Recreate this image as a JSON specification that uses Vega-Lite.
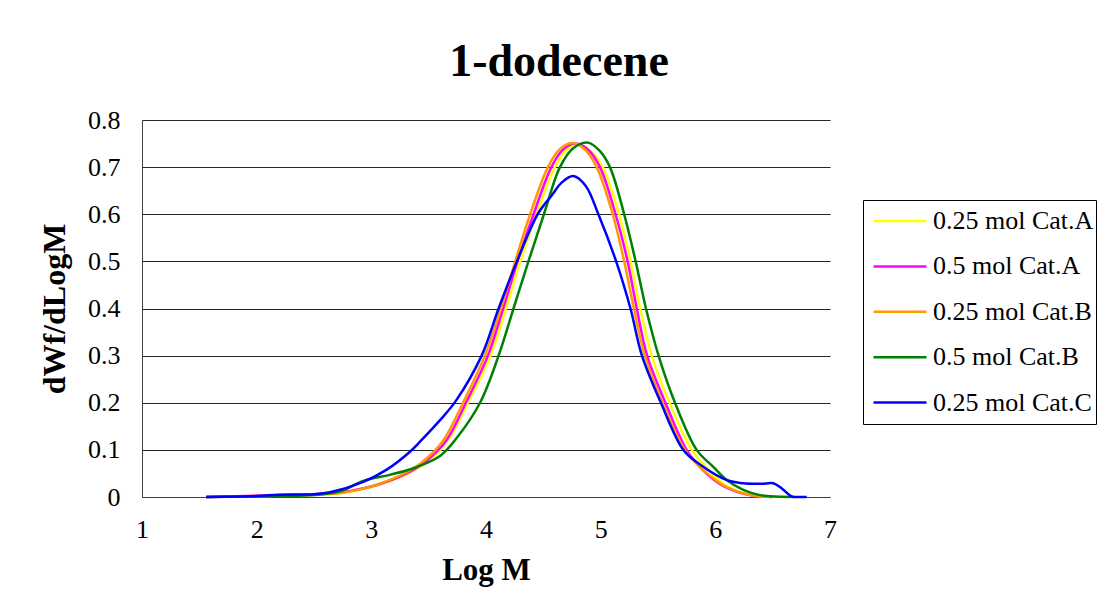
{
  "$schema": "https://vega.github.io/schema/vega-lite/v6.json",
  "width": 688,
  "height": 377,
  "autosize": {"type": "none"},
  "padding": {"left": 142, "top": 120, "right": 275, "bottom": 113},
  "background": "white",
  "config": {"font": "Liberation Serif", "view": {"stroke": null}},
  "title": {"text": "1-dodecene", "fontSize": 46, "fontWeight": "bold", "font": "Liberation Serif", "color": "black", "anchor": "middle", "dx": 73, "dy": 47, "baseline": "alphabetic", "offset": 32},
  "data": {"values": [
    {"s": "0.25 mol Cat.A", "x": 1.56, "y": 0},
    {"s": "0.25 mol Cat.A", "x": 2.2, "y": 0.003},
    {"s": "0.25 mol Cat.A", "x": 2.5, "y": 0.005},
    {"s": "0.25 mol Cat.A", "x": 2.75, "y": 0.009},
    {"s": "0.25 mol Cat.A", "x": 3.08, "y": 0.027},
    {"s": "0.25 mol Cat.A", "x": 3.37, "y": 0.056},
    {"s": "0.25 mol Cat.A", "x": 3.53, "y": 0.083},
    {"s": "0.25 mol Cat.A", "x": 3.671, "y": 0.121},
    {"s": "0.25 mol Cat.A", "x": 3.843, "y": 0.2},
    {"s": "0.25 mol Cat.A", "x": 4.04, "y": 0.3},
    {"s": "0.25 mol Cat.A", "x": 4.174, "y": 0.4},
    {"s": "0.25 mol Cat.A", "x": 4.3, "y": 0.5},
    {"s": "0.25 mol Cat.A", "x": 4.44, "y": 0.6},
    {"s": "0.25 mol Cat.A", "x": 4.6, "y": 0.7},
    {"s": "0.25 mol Cat.A", "x": 4.7, "y": 0.737},
    {"s": "0.25 mol Cat.A", "x": 4.8, "y": 0.748},
    {"s": "0.25 mol Cat.A", "x": 4.91, "y": 0.735},
    {"s": "0.25 mol Cat.A", "x": 5.018, "y": 0.7},
    {"s": "0.25 mol Cat.A", "x": 5.16, "y": 0.6},
    {"s": "0.25 mol Cat.A", "x": 5.26, "y": 0.5},
    {"s": "0.25 mol Cat.A", "x": 5.345, "y": 0.4},
    {"s": "0.25 mol Cat.A", "x": 5.445, "y": 0.3},
    {"s": "0.25 mol Cat.A", "x": 5.6, "y": 0.2},
    {"s": "0.25 mol Cat.A", "x": 5.794, "y": 0.1},
    {"s": "0.25 mol Cat.A", "x": 5.93, "y": 0.06},
    {"s": "0.25 mol Cat.A", "x": 6.09, "y": 0.025},
    {"s": "0.25 mol Cat.A", "x": 6.3, "y": 0.005},
    {"s": "0.25 mol Cat.A", "x": 6.55, "y": 0},

    {"s": "0.5 mol Cat.A", "x": 1.56, "y": 0},
    {"s": "0.5 mol Cat.A", "x": 1.9, "y": 0.002},
    {"s": "0.5 mol Cat.A", "x": 2.2, "y": 0.004},
    {"s": "0.5 mol Cat.A", "x": 2.5, "y": 0.006},
    {"s": "0.5 mol Cat.A", "x": 2.75, "y": 0.01},
    {"s": "0.5 mol Cat.A", "x": 3.08, "y": 0.028},
    {"s": "0.5 mol Cat.A", "x": 3.37, "y": 0.058},
    {"s": "0.5 mol Cat.A", "x": 3.52, "y": 0.085},
    {"s": "0.5 mol Cat.A", "x": 3.657, "y": 0.121},
    {"s": "0.5 mol Cat.A", "x": 3.825, "y": 0.2},
    {"s": "0.5 mol Cat.A", "x": 4.017, "y": 0.3},
    {"s": "0.5 mol Cat.A", "x": 4.15, "y": 0.4},
    {"s": "0.5 mol Cat.A", "x": 4.275, "y": 0.5},
    {"s": "0.5 mol Cat.A", "x": 4.415, "y": 0.6},
    {"s": "0.5 mol Cat.A", "x": 4.57, "y": 0.7},
    {"s": "0.5 mol Cat.A", "x": 4.67, "y": 0.737},
    {"s": "0.5 mol Cat.A", "x": 4.78, "y": 0.75},
    {"s": "0.5 mol Cat.A", "x": 4.89, "y": 0.737},
    {"s": "0.5 mol Cat.A", "x": 4.994, "y": 0.7},
    {"s": "0.5 mol Cat.A", "x": 5.13, "y": 0.6},
    {"s": "0.5 mol Cat.A", "x": 5.235, "y": 0.5},
    {"s": "0.5 mol Cat.A", "x": 5.315, "y": 0.4},
    {"s": "0.5 mol Cat.A", "x": 5.405, "y": 0.3},
    {"s": "0.5 mol Cat.A", "x": 5.565, "y": 0.2},
    {"s": "0.5 mol Cat.A", "x": 5.75, "y": 0.1},
    {"s": "0.5 mol Cat.A", "x": 5.9, "y": 0.055},
    {"s": "0.5 mol Cat.A", "x": 6.08, "y": 0.022},
    {"s": "0.5 mol Cat.A", "x": 6.3, "y": 0.004},
    {"s": "0.5 mol Cat.A", "x": 6.5, "y": 0},

    {"s": "0.25 mol Cat.B", "x": 1.56, "y": 0},
    {"s": "0.25 mol Cat.B", "x": 1.9, "y": 0.001},
    {"s": "0.25 mol Cat.B", "x": 2.2, "y": 0.003},
    {"s": "0.25 mol Cat.B", "x": 2.5, "y": 0.005},
    {"s": "0.25 mol Cat.B", "x": 2.75, "y": 0.009},
    {"s": "0.25 mol Cat.B", "x": 3.08, "y": 0.029},
    {"s": "0.25 mol Cat.B", "x": 3.37, "y": 0.061},
    {"s": "0.25 mol Cat.B", "x": 3.51, "y": 0.088},
    {"s": "0.25 mol Cat.B", "x": 3.63, "y": 0.121},
    {"s": "0.25 mol Cat.B", "x": 3.8, "y": 0.2},
    {"s": "0.25 mol Cat.B", "x": 3.99, "y": 0.3},
    {"s": "0.25 mol Cat.B", "x": 4.13, "y": 0.4},
    {"s": "0.25 mol Cat.B", "x": 4.255, "y": 0.5},
    {"s": "0.25 mol Cat.B", "x": 4.385, "y": 0.6},
    {"s": "0.25 mol Cat.B", "x": 4.54, "y": 0.7},
    {"s": "0.25 mol Cat.B", "x": 4.64, "y": 0.737},
    {"s": "0.25 mol Cat.B", "x": 4.75, "y": 0.751},
    {"s": "0.25 mol Cat.B", "x": 4.86, "y": 0.738},
    {"s": "0.25 mol Cat.B", "x": 4.965, "y": 0.7},
    {"s": "0.25 mol Cat.B", "x": 5.105, "y": 0.6},
    {"s": "0.25 mol Cat.B", "x": 5.205, "y": 0.5},
    {"s": "0.25 mol Cat.B", "x": 5.29, "y": 0.4},
    {"s": "0.25 mol Cat.B", "x": 5.385, "y": 0.3},
    {"s": "0.25 mol Cat.B", "x": 5.54, "y": 0.2},
    {"s": "0.25 mol Cat.B", "x": 5.735, "y": 0.1},
    {"s": "0.25 mol Cat.B", "x": 5.895, "y": 0.057},
    {"s": "0.25 mol Cat.B", "x": 6.069, "y": 0.025},
    {"s": "0.25 mol Cat.B", "x": 6.157, "y": 0.015},
    {"s": "0.25 mol Cat.B", "x": 6.302, "y": 0.004},
    {"s": "0.25 mol Cat.B", "x": 6.48, "y": 0},

    {"s": "0.5 mol Cat.B", "x": 1.56, "y": 0},
    {"s": "0.5 mol Cat.B", "x": 2.2, "y": 0.002},
    {"s": "0.5 mol Cat.B", "x": 2.5, "y": 0.004},
    {"s": "0.5 mol Cat.B", "x": 2.73, "y": 0.012},
    {"s": "0.5 mol Cat.B", "x": 2.93, "y": 0.034},
    {"s": "0.5 mol Cat.B", "x": 3.16, "y": 0.047},
    {"s": "0.5 mol Cat.B", "x": 3.366, "y": 0.061},
    {"s": "0.5 mol Cat.B", "x": 3.599, "y": 0.087},
    {"s": "0.5 mol Cat.B", "x": 3.744, "y": 0.125},
    {"s": "0.5 mol Cat.B", "x": 3.948, "y": 0.2},
    {"s": "0.5 mol Cat.B", "x": 4.11, "y": 0.3},
    {"s": "0.5 mol Cat.B", "x": 4.24, "y": 0.4},
    {"s": "0.5 mol Cat.B", "x": 4.37, "y": 0.5},
    {"s": "0.5 mol Cat.B", "x": 4.505, "y": 0.6},
    {"s": "0.5 mol Cat.B", "x": 4.645, "y": 0.7},
    {"s": "0.5 mol Cat.B", "x": 4.76, "y": 0.74},
    {"s": "0.5 mol Cat.B", "x": 4.89, "y": 0.752},
    {"s": "0.5 mol Cat.B", "x": 4.99, "y": 0.735},
    {"s": "0.5 mol Cat.B", "x": 5.081, "y": 0.7},
    {"s": "0.5 mol Cat.B", "x": 5.205, "y": 0.6},
    {"s": "0.5 mol Cat.B", "x": 5.305, "y": 0.5},
    {"s": "0.5 mol Cat.B", "x": 5.395, "y": 0.4},
    {"s": "0.5 mol Cat.B", "x": 5.505, "y": 0.3},
    {"s": "0.5 mol Cat.B", "x": 5.648, "y": 0.2},
    {"s": "0.5 mol Cat.B", "x": 5.837, "y": 0.1},
    {"s": "0.5 mol Cat.B", "x": 5.982, "y": 0.064},
    {"s": "0.5 mol Cat.B", "x": 6.099, "y": 0.036},
    {"s": "0.5 mol Cat.B", "x": 6.244, "y": 0.015},
    {"s": "0.5 mol Cat.B", "x": 6.389, "y": 0.004},
    {"s": "0.5 mol Cat.B", "x": 6.65, "y": 0},

    {"s": "0.25 mol Cat.C", "x": 1.56, "y": 0},
    {"s": "0.25 mol Cat.C", "x": 2.0, "y": 0.002},
    {"s": "0.25 mol Cat.C", "x": 2.2, "y": 0.005},
    {"s": "0.25 mol Cat.C", "x": 2.5, "y": 0.006},
    {"s": "0.25 mol Cat.C", "x": 2.64, "y": 0.01},
    {"s": "0.25 mol Cat.C", "x": 2.93, "y": 0.032},
    {"s": "0.25 mol Cat.C", "x": 3.134, "y": 0.058},
    {"s": "0.25 mol Cat.C", "x": 3.337, "y": 0.096},
    {"s": "0.25 mol Cat.C", "x": 3.439, "y": 0.121},
    {"s": "0.25 mol Cat.C", "x": 3.599, "y": 0.163},
    {"s": "0.25 mol Cat.C", "x": 3.74, "y": 0.205},
    {"s": "0.25 mol Cat.C", "x": 3.962, "y": 0.3},
    {"s": "0.25 mol Cat.C", "x": 4.11, "y": 0.4},
    {"s": "0.25 mol Cat.C", "x": 4.27, "y": 0.5},
    {"s": "0.25 mol Cat.C", "x": 4.45, "y": 0.6},
    {"s": "0.25 mol Cat.C", "x": 4.573, "y": 0.64},
    {"s": "0.25 mol Cat.C", "x": 4.66, "y": 0.667},
    {"s": "0.25 mol Cat.C", "x": 4.76, "y": 0.681},
    {"s": "0.25 mol Cat.C", "x": 4.87, "y": 0.66},
    {"s": "0.25 mol Cat.C", "x": 4.98, "y": 0.6},
    {"s": "0.25 mol Cat.C", "x": 5.135, "y": 0.5},
    {"s": "0.25 mol Cat.C", "x": 5.26, "y": 0.4},
    {"s": "0.25 mol Cat.C", "x": 5.36, "y": 0.3},
    {"s": "0.25 mol Cat.C", "x": 5.525, "y": 0.2},
    {"s": "0.25 mol Cat.C", "x": 5.721, "y": 0.1},
    {"s": "0.25 mol Cat.C", "x": 5.866, "y": 0.069},
    {"s": "0.25 mol Cat.C", "x": 6.099, "y": 0.036},
    {"s": "0.25 mol Cat.C", "x": 6.244, "y": 0.029},
    {"s": "0.25 mol Cat.C", "x": 6.4, "y": 0.028},
    {"s": "0.25 mol Cat.C", "x": 6.505, "y": 0.029},
    {"s": "0.25 mol Cat.C", "x": 6.57, "y": 0.02},
    {"s": "0.25 mol Cat.C", "x": 6.666, "y": 0.001},
    {"s": "0.25 mol Cat.C", "x": 6.72, "y": 0},
    {"s": "0.25 mol Cat.C", "x": 6.797, "y": 0}
  ]},
  "mark": {"type": "line", "interpolate": "catmull-rom", "strokeWidth": 2.5},
  "encoding": {
    "x": {"field": "x", "type": "quantitative",
      "scale": {"domain": [1, 7], "nice": false, "zero": false},
      "axis": {"title": "Log M", "values": [1, 2, 3, 4, 5, 6, 7], "format": "d", "grid": false, "ticks": false,
        "labelFontSize": 26, "labelFont": "Liberation Serif", "labelColor": "black", "labelPadding": 19, "labelFlush": false,
        "titleFontSize": 31, "titleFont": "Liberation Serif", "titleFontWeight": "bold", "titleColor": "black", "titlePadding": 13,
        "domainColor": "#404040", "domainWidth": 1}},
    "y": {"field": "y", "type": "quantitative",
      "scale": {"domain": [0, 0.8], "nice": false},
      "axis": {"title": "dWf/dLogM", "values": [0, 0.1, 0.2, 0.3, 0.4, 0.5, 0.6, 0.7, 0.8], "format": ".1~f", "grid": true, "gridColor": "#000000", "gridWidth": 1, "gridOpacity": 0.85, "ticks": false,
        "labelFontSize": 26, "labelFont": "Liberation Serif", "labelColor": "black", "labelPadding": 22, "labelFlush": false,
        "titleFontSize": 32, "titleFont": "Liberation Serif", "titleFontWeight": "bold", "titleColor": "black", "titlePadding": 16,
        "domainColor": "#404040", "domainWidth": 1}},
    "color": {"field": "s", "type": "nominal",
      "scale": {"domain": ["0.25 mol Cat.A", "0.5 mol Cat.A", "0.25 mol Cat.B", "0.5 mol Cat.B", "0.25 mol Cat.C"],
        "range": ["#FFFF00", "#FF00FF", "#FF9900", "#008000", "#0000FF"]},
      "legend": {"title": null, "orient": "none", "legendX": 721, "legendY": 80,
        "strokeColor": "black", "fillColor": "white", "padding": 2,
        "symbolType": "stroke", "symbolSize": 2809, "symbolStrokeWidth": 2.5, "symbolOffset": 7,
        "clipHeight": 38, "rowPadding": 7.4,
        "labelFontSize": 26, "labelFont": "Liberation Serif", "labelColor": "black", "labelOffset": 5, "labelLimit": 400}}
  }
}
